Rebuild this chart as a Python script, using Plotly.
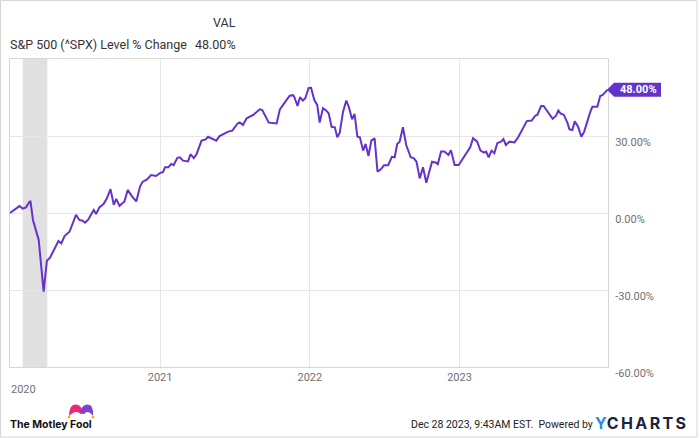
import plotly.graph_objects as go

# ---------------- data ----------------
dates = [
    "2020-01-01", "2020-01-10", "2020-01-24", "2020-02-01", "2020-02-09", "2020-02-18",
    "2020-02-20", "2020-02-26", "2020-03-11", "2020-03-23", "2020-03-31", "2020-04-08",
    "2020-04-19", "2020-04-28", "2020-05-05", "2020-05-13", "2020-05-25", "2020-06-10",
    "2020-06-18", "2020-06-26", "2020-07-02", "2020-07-10", "2020-07-23", "2020-07-29",
    "2020-08-06", "2020-08-16", "2020-08-24", "2020-09-02", "2020-09-10", "2020-09-16",
    "2020-09-24", "2020-10-06", "2020-10-14", "2020-10-24", "2020-11-04", "2020-11-13",
    "2020-11-19", "2020-11-30", "2020-12-10", "2020-12-22", "2021-01-02", "2021-01-08",
    "2021-01-13", "2021-01-21", "2021-01-28", "2021-02-03", "2021-02-12", "2021-02-18",
    "2021-02-26", "2021-03-10", "2021-03-16", "2021-03-24", "2021-03-31", "2021-04-12",
    "2021-04-22", "2021-04-28", "2021-05-18", "2021-05-26", "2021-06-16", "2021-06-26",
    "2021-07-09", "2021-07-14", "2021-07-22", "2021-07-31", "2021-08-16", "2021-09-01",
    "2021-09-07", "2021-09-23", "2021-10-12", "2021-10-20", "2021-11-05", "2021-11-13",
    "2021-11-21", "2021-11-24", "2021-12-02", "2021-12-08", "2021-12-15", "2021-12-21",
    "2021-12-29", "2022-01-04", "2022-01-12", "2022-01-19", "2022-01-25", "2022-02-02",
    "2022-02-10", "2022-02-16", "2022-02-23", "2022-03-03", "2022-03-09", "2022-03-15",
    "2022-03-23", "2022-03-31", "2022-04-06", "2022-04-14", "2022-04-20", "2022-04-27",
    "2022-05-03", "2022-05-11", "2022-05-17", "2022-05-24", "2022-05-31", "2022-06-08",
    "2022-06-15", "2022-06-23", "2022-07-01", "2022-07-11", "2022-07-20", "2022-07-27",
    "2022-08-02", "2022-08-08", "2022-08-16", "2022-08-24", "2022-09-04", "2022-09-12",
    "2022-09-18", "2022-09-26", "2022-10-04", "2022-10-12", "2022-10-26", "2022-11-05",
    "2022-11-09", "2022-11-17", "2022-11-25", "2022-12-05", "2022-12-11", "2022-12-20",
    "2022-12-30", "2023-01-11", "2023-01-21", "2023-01-27", "2023-02-03", "2023-02-13",
    "2023-02-21", "2023-03-02", "2023-03-07", "2023-03-13", "2023-03-20", "2023-03-27",
    "2023-04-03", "2023-04-12", "2023-04-18", "2023-04-24", "2023-05-03", "2023-05-15",
    "2023-05-24", "2023-06-04", "2023-06-14", "2023-06-26", "2023-07-04", "2023-07-10",
    "2023-07-19", "2023-07-25", "2023-08-04", "2023-08-16", "2023-08-24", "2023-08-30",
    "2023-09-04", "2023-09-12", "2023-09-21", "2023-09-26", "2023-10-03", "2023-10-09",
    "2023-10-17", "2023-10-25", "2023-11-01", "2023-11-08", "2023-11-16", "2023-11-21",
    "2023-12-03", "2023-12-10", "2023-12-16", "2023-12-28",
]
pct_change = [
    0.0, 1.2, 2.7, 1.7, 2.2, 4.5,
    4.5, -2.7, -10.5, -30.6, -18.6, -17.3,
    -13.8, -10.9, -11.8, -9.0, -7.3, -0.7,
    -2.7, -3.0, -3.8, -2.5, 1.2, -0.4,
    2.2, 3.5, 5.6, 9.3, 3.2, 5.5,
    2.8, 4.5, 9.0, 6.6, 4.5, 10.3,
    12.1, 13.1, 14.8, 14.4, 15.7, 15.9,
    17.8, 17.8, 19.1, 18.6, 21.5, 21.7,
    20.4, 20.1, 22.9, 21.4, 23.0, 28.2,
    28.7, 29.7, 28.2, 30.0, 31.7, 32.1,
    34.9, 35.3, 34.3, 36.9, 38.2, 40.4,
    40.1, 35.2, 34.9, 40.4, 44.0, 45.7,
    45.9, 45.3, 41.7, 45.1, 43.8, 44.7,
    48.7, 48.8, 44.0, 42.1, 35.2, 40.8,
    39.9, 38.8, 33.6, 33.4, 29.5, 31.3,
    39.5, 43.8, 41.4, 36.5, 38.6, 29.7,
    29.5, 24.3, 26.9, 22.2, 28.2, 29.1,
    16.1, 17.0, 18.6, 18.6, 21.9, 21.7,
    26.9, 27.8, 33.4, 26.5, 21.7, 21.3,
    20.0, 13.5, 17.8, 11.8, 20.0, 19.6,
    19.0, 24.0, 24.0, 22.6, 24.5, 18.7,
    18.7, 21.9, 24.3, 25.6, 29.1, 27.8,
    24.3, 23.5, 23.9, 21.7, 24.3, 23.3,
    27.2, 27.8, 28.8, 26.5, 27.8, 27.5,
    29.5, 33.0, 35.8, 36.0, 37.8, 38.3,
    41.7, 41.7, 39.5, 36.7, 37.8, 39.9,
    38.8, 38.3, 35.2, 32.6, 32.3, 35.7,
    33.6, 29.7, 31.7, 35.6, 39.5, 41.4,
    41.4, 45.6, 46.0, 48.0,
]
series_name = "S&P 500 (^SPX) Level % Change"
last_label = "48.00%"
recession = ["2020-02-01", "2020-04-01"]
year_ticks = ["2021-01-01", "2022-01-01", "2023-01-01"]
year_labels = ["2021", "2022", "2023"]
first_year_label = "2020"
first_year_pos = "2020-02-04"
y_ticks = [-60, -30, 0, 30]

# ---------------- layout constants ----------------
W, H = 700, 438
ML, MR, MT, MB = 10, 92, 59, 71
PW, PH = W - ML - MR, H - MT - MB

def px(x):
    return (x - ML) / PW

def py(y):
    return (H - MB - y) / PH

PURPLE = "#6433cc"
GRID = "#e6e6e6"
FRAME = "#d6d6d6"
TICK = "#707070"
FONT = "Roboto"

fig = go.Figure()
fig.add_trace(go.Scatter(
    x=dates, y=pct_change, mode="lines", name=series_name,
    line=dict(color=PURPLE, width=2), hoverinfo="skip", showlegend=False,
))

shapes = [
    # recession shading
    dict(type="rect", xref="x", yref="paper", x0=recession[0], x1=recession[1], y0=0, y1=1,
         fillcolor="#e0e0e0", line=dict(width=0), layer="below"),
    # outer frame
    dict(type="rect", xref="paper", yref="paper", x0=px(0.5), x1=px(697), y0=py(437), y1=py(0.5),
         line=dict(color=FRAME, width=1), fillcolor="rgba(0,0,0,0)", layer="above"),
    # value tag (arrow-shaped label at the right edge, anchored on the last value)
    dict(type="path", xref="paper", yref="y", xsizemode="pixel", ysizemode="pixel",
         xanchor=1, yanchor=pct_change[-1],
         path="M -1 0 L 6 7 L 53 7 L 53 -7 L 6 -7 Z",
         fillcolor=PURPLE, line=dict(width=0), layer="above"),
]

# Motley Fool jester hat
pink = "M {} {} Q {} {} {} {} Q {} {} {} {} L {} {} Q {} {} {} {} Z".format(
    px(69), py(416), px(69), py(404), px(76), py(404.5), px(82), py(405), px(83), py(413),
    px(80.5), py(414), px(76), py(409), px(69), py(416))
purple = "M {} {} Q {} {} {} {} Q {} {} {} {} Q {} {} {} {} L {} {} Z".format(
    px(80.5), py(412), px(81.5), py(405), px(87), py(404.5), px(94), py(404), px(93), py(416),
    px(88), py(409), px(84), py(414), px(82.5), py(414))
shapes += [
    dict(type="path", xref="paper", yref="paper", path=pink, fillcolor="#e9287b",
         line=dict(width=0), layer="above"),
    dict(type="path", xref="paper", yref="paper", path=purple, fillcolor="#7a43d4",
         line=dict(width=0), layer="above"),
    dict(type="circle", xref="paper", yref="paper", x0=px(67.6), x1=px(70.4), y0=py(418.6), y1=py(415.8),
         fillcolor="#f4b400", line=dict(width=0), layer="above"),
    dict(type="circle", xref="paper", yref="paper", x0=px(91.6), x1=px(94.4), y0=py(418.6), y1=py(415.8),
         fillcolor="#f4b400", line=dict(width=0), layer="above"),
]

annotations = [
    dict(xref="paper", yref="paper", x=px(238), y=py(22), text="VAL", showarrow=False,
         xanchor="right", yanchor="middle", font=dict(family=FONT, size=12.5, color="#333333")),
    dict(xref="paper", yref="paper", x=px(8), y=py(44), text=series_name, showarrow=False,
         xanchor="left", yanchor="middle", font=dict(family=FONT, size=12.5, color="#333333")),
    dict(xref="paper", yref="paper", x=px(238), y=py(44), text=last_label, showarrow=False,
         xanchor="right", yanchor="middle", font=dict(family=FONT, size=12.5, color="#333333")),
    # tag text
    dict(xref="paper", yref="y", x=1, y=pct_change[-1], text="<b>" + last_label + "</b>",
         showarrow=False, xanchor="center", yanchor="middle", xshift=30,
         font=dict(family=FONT, size=11, color="white")),
    # 2020 label
    dict(xref="x", yref="paper", x=first_year_pos, y=0, text=first_year_label, showarrow=False,
         xanchor="center", yanchor="middle", yshift=-22, font=dict(family=FONT, size=11, color=TICK)),
    # footer
    dict(xref="paper", yref="paper", x=px(8), y=py(424), text="<b>The Motley Fool</b>", showarrow=False,
         xanchor="left", yanchor="middle", font=dict(family="Inter", size=10.5, color="#111111")),
    dict(xref="paper", yref="paper", x=px(595), y=py(424),
         text="Dec 28 2023, 9:43AM EST.  Powered by", showarrow=False,
         xanchor="right", yanchor="middle", font=dict(family=FONT, size=10.5, color="#222222")),
    dict(xref="paper", yref="paper", x=px(691), y=py(423),
         text="<b><span style='color:#1f8fe5'>Y</span>"
              "<span style='letter-spacing:2.4px'>CHARTS</span></b>",
         showarrow=False, xanchor="right", yanchor="middle",
         font=dict(family="Inter", size=16, color="#1c2340")),
]

fig.update_layout(
    width=W, height=H,
    margin=dict(l=ML, r=MR, t=MT, b=MB, pad=0),
    paper_bgcolor="white", plot_bgcolor="white",
    font=dict(family=FONT),
    showlegend=False,
    shapes=shapes,
    annotations=annotations,
    xaxis=dict(
        type="date", range=["2020-01-01", "2023-12-29"],
        tickvals=year_ticks, ticktext=year_labels,
        showgrid=True, gridcolor=GRID, gridwidth=1,
        showline=True, linecolor=FRAME, linewidth=1, mirror=True,
        ticks="", tickfont=dict(family=FONT, size=11, color=TICK),
        zeroline=False, fixedrange=True,
    ),
    yaxis=dict(
        side="right", range=[-60, 60], tickvals=y_ticks,
        ticktext=[f"{v:.2f}%" for v in y_ticks],
        showgrid=True, gridcolor=GRID, gridwidth=1,
        showline=True, linecolor=FRAME, linewidth=1, mirror=True,
        ticks="", tickfont=dict(family=FONT, size=11, color=TICK),
        ticklabelshift=6, ticklabelstandoff=4,
        zeroline=False, fixedrange=True,
    ),
)

fig.write_html(
    "out.html",
    config={"displayModeBar": False},
    post_script="document.body.style.margin='0';document.body.style.overflow='hidden';",
)
